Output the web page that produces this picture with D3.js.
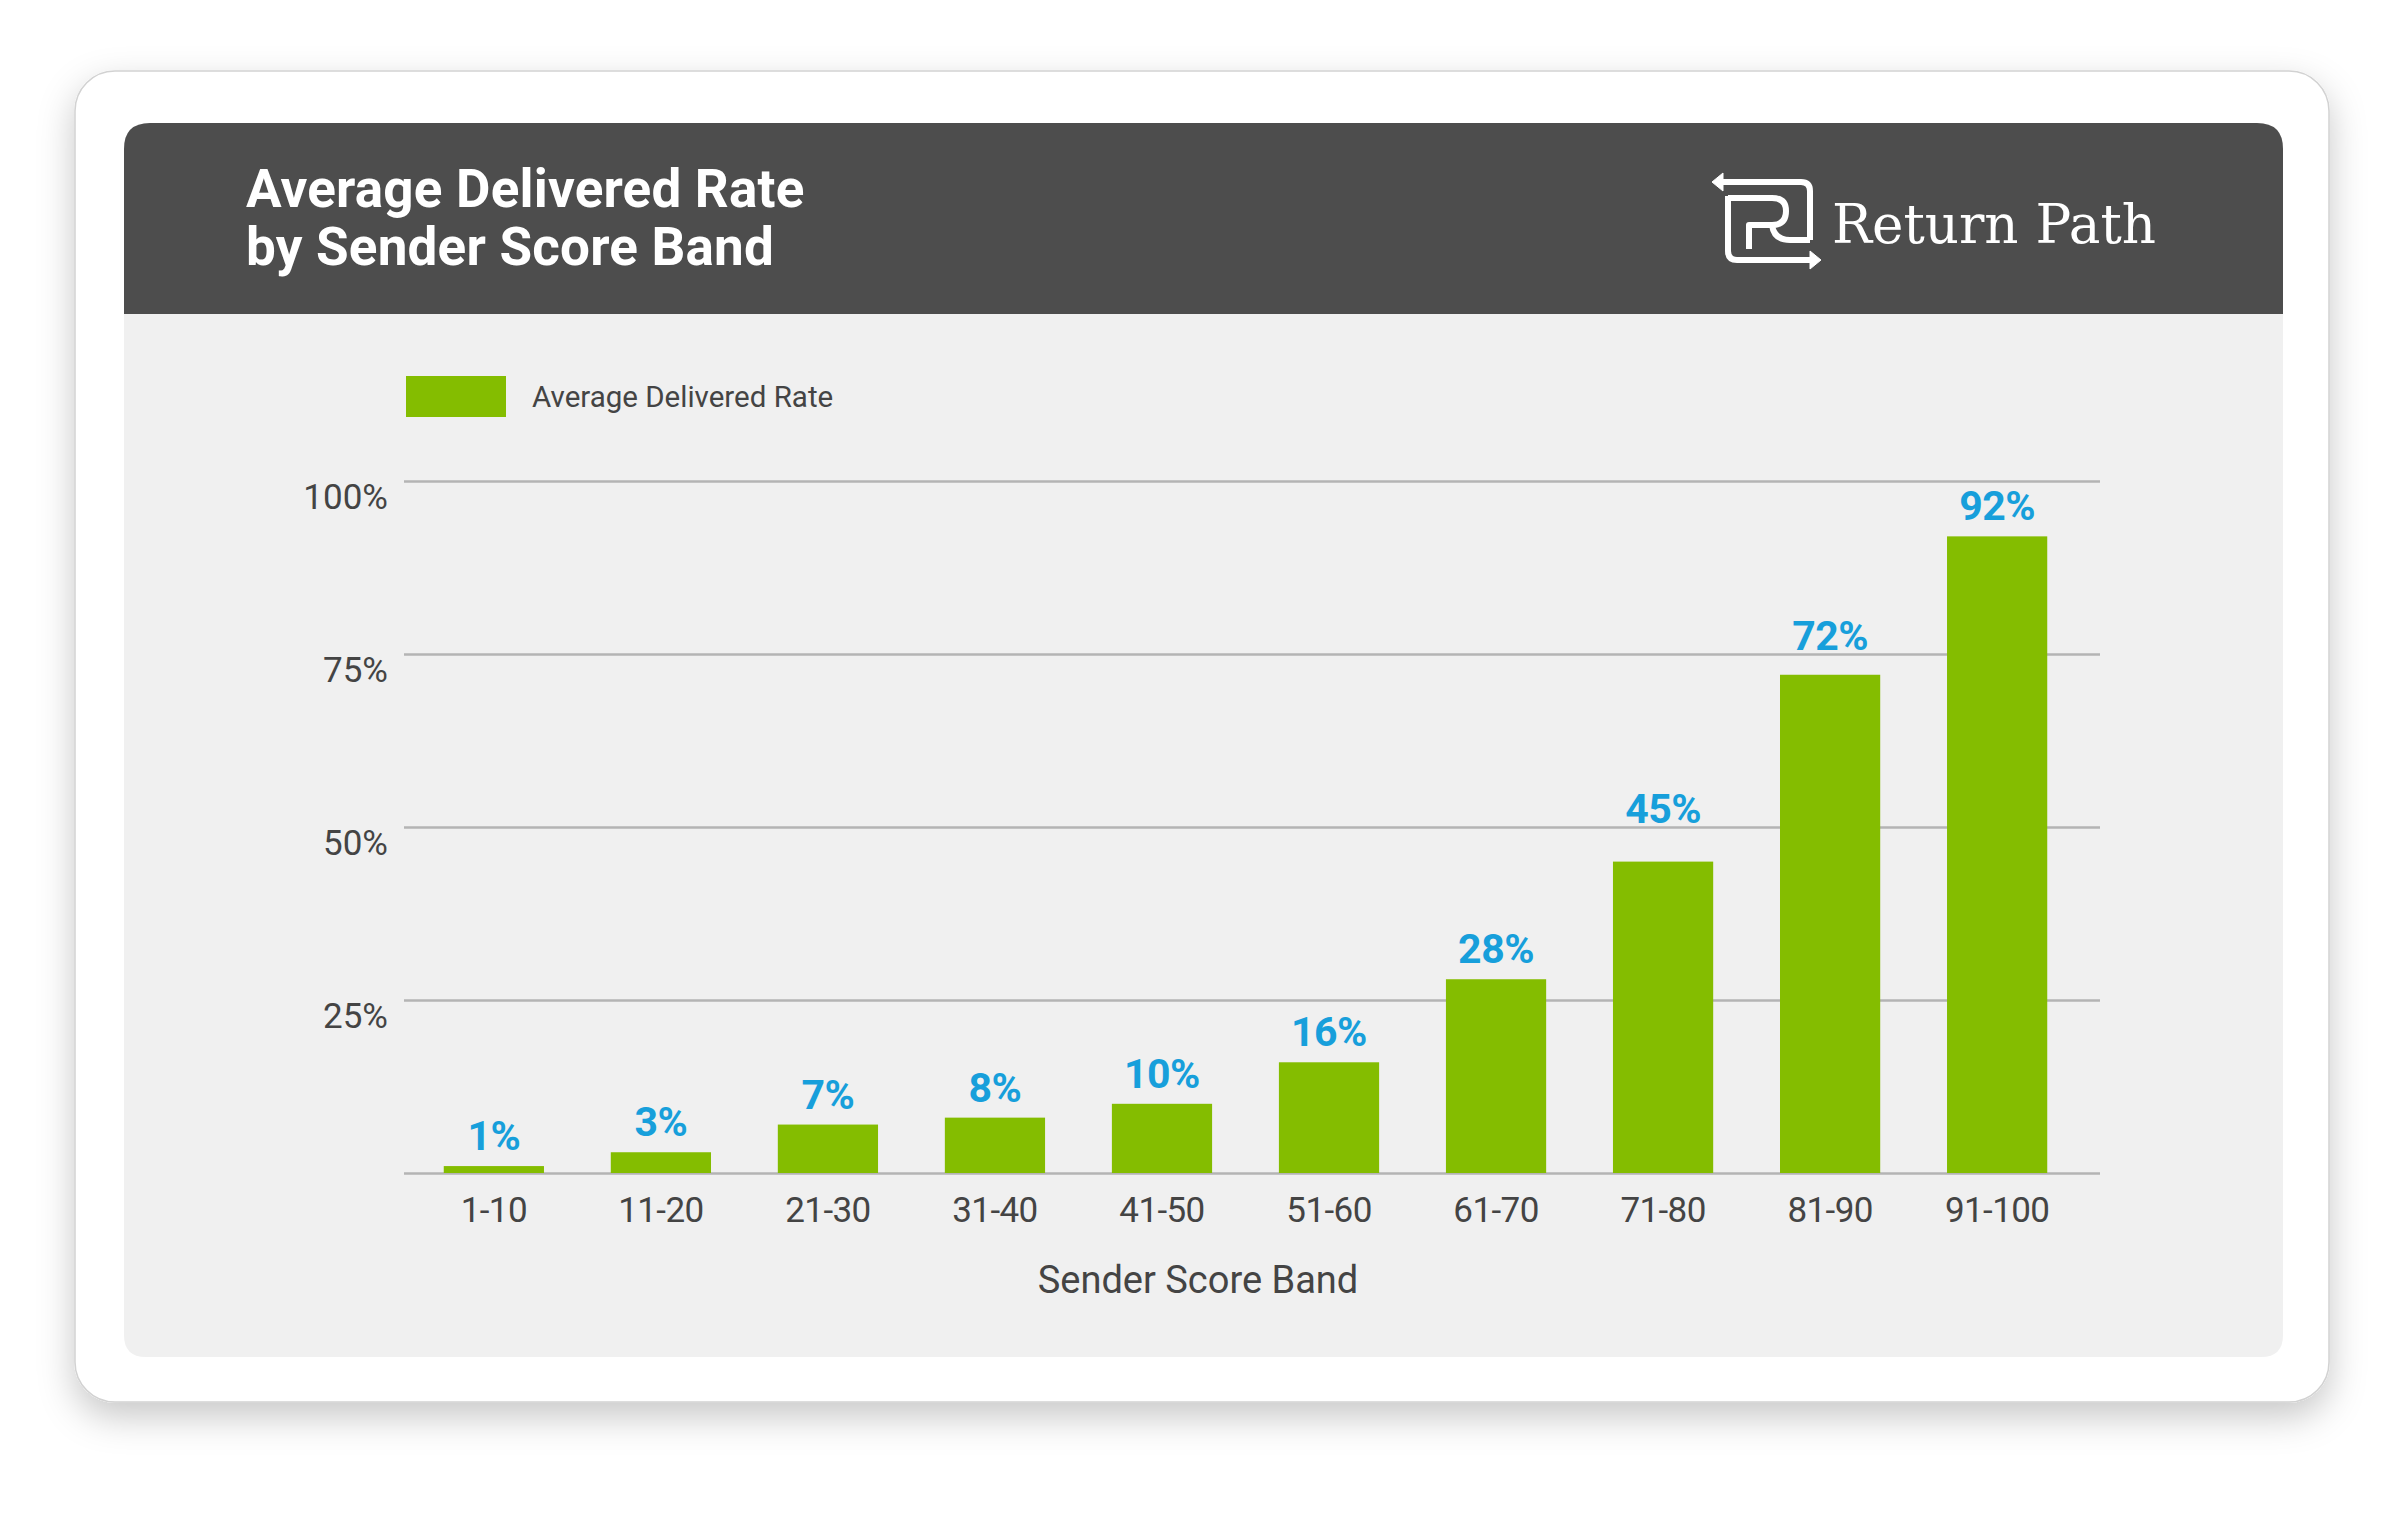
<!DOCTYPE html>
<html>
<head>
<meta charset="utf-8">
<script src="https://cdn.jsdelivr.net/npm/d3@7"></script>
<style>
  html, body { margin: 0; padding: 0; background: #ffffff; }
  svg { display: block; }
</style>
</head>
<body>
<script>
// ---- data ----
const categories = ["1-10", "11-20", "21-30", "31-40", "41-50", "51-60", "61-70", "71-80", "81-90", "91-100"];
const deliveredRate = [1, 3, 7, 8, 10, 16, 28, 45, 72, 92];
const yTickValues = [0, 25, 50, 75, 100];
const yTickLabels = ["", "25%", "50%", "75%", "100%"];
const titleLines = ["Average Delivered Rate", "by Sender Score Band"];
const legendLabel = "Average Delivered Rate";
const xAxisTitle = "Sender Score Band";
const brandName = "Return Path";

// ---- style ----
const W = 2400, H = 1532;
const GREEN = "#84bd00", BLUE = "#179fdb", TEXT = "#444444", GRID = "#b4b4b4";
const FONT = "Roboto, 'Open Sans', sans-serif";

const svg = d3.select("body").append("svg").attr("width", W).attr("height", H);
const defs = svg.append("defs");
const f = defs.append("filter").attr("id", "shadow").attr("x", "-10%").attr("y", "-10%").attr("width", "120%").attr("height", "125%");
f.append("feDropShadow").attr("dx", 0).attr("dy", 14).attr("stdDeviation", 18).attr("flood-color", "#000").attr("flood-opacity", 0.22);

svg.append("rect").attr("width", W).attr("height", H).attr("fill", "#ffffff");

// card
svg.append("rect").attr("x", 75).attr("y", 71).attr("width", 2254).attr("height", 1331)
  .attr("rx", 40).attr("fill", "#ffffff").attr("stroke", "#d2d2d2").attr("stroke-width", 1.5)
  .attr("filter", "url(#shadow)");

// panel (header + body)
function roundedPath(x, y, w, h, rTop, rBot) {
  return `M${x},${y + rTop} Q${x},${y} ${x + rTop},${y} L${x + w - rTop},${y} Q${x + w},${y} ${x + w},${y + rTop}
          L${x + w},${y + h - rBot} Q${x + w},${y + h} ${x + w - rBot},${y + h} L${x + rBot},${y + h} Q${x},${y + h} ${x},${y + h - rBot} Z`;
}
svg.append("path").attr("d", roundedPath(124, 123, 2159, 1234, 26, 22)).attr("fill", "#f0f0f0");
svg.append("path").attr("d", roundedPath(124, 123, 2159, 191, 26, 0)).attr("fill", "#4d4d4d");

// title
const title = svg.append("text").attr("x", 246).attr("fill", "#ffffff")
  .style("font-family", FONT).style("font-weight", 700).style("font-size", "53px").style("letter-spacing", "0.2px");
titleLines.forEach((t, i) => title.append("tspan").attr("x", 246).attr("y", 207 + i * 58).text(t));

// logo icon
const logo = svg.append("g").attr("transform", "translate(1700,160)")
  .attr("fill", "none").attr("stroke", "#ffffff").attr("stroke-width", 6).attr("stroke-linejoin", "round");
logo.append("path").attr("d", "M22,22 L101,22 Q110,22 110,31 L110,80");
logo.append("path").attr("d", "M28,36 L28,91 Q28,100 37,100 L110,100");
logo.append("path").attr("d", "M28,38 L72,38 Q86,38 86,51 Q86,65 72,65 L49,65 L49,89");
logo.append("path").attr("d", "M72,65 Q74,80 90,80 L110,80");
logo.append("path").attr("d", "M12,22 L23,13 L23,31 Z").attr("fill", "#fff").attr("stroke-width", 1);
logo.append("path").attr("d", "M121,100 L110,91 L110,109 Z").attr("fill", "#fff").attr("stroke-width", 1);
svg.append("text").attr("x", 1832).attr("y", 243).attr("fill", "#ffffff")
  .attr("textLength", 324).attr("lengthAdjust", "spacingAndGlyphs")
  .style("font-family", "'DejaVu Serif', serif").style("font-size", "55px").text(brandName);

// legend
svg.append("rect").attr("x", 406).attr("y", 376).attr("width", 100).attr("height", 41).attr("fill", GREEN);
svg.append("text").attr("x", 532).attr("y", 407).attr("fill", TEXT)
  .style("font-family", FONT).style("font-size", "29.5px").text(legendLabel);

// scales
const gx0 = 404, gx1 = 2100;
const x = d3.scaleBand().domain(categories).range([402, 2089]).paddingInner(0.4).paddingOuter(0.25);
const y = d3.scaleLinear().domain([0, 100]).range([1173, 481]);

// y axis with gridlines
const yAxis = d3.axisLeft(y).tickValues(yTickValues)
  .tickFormat((d, i) => yTickLabels[i]).tickSize(-(gx1 - gx0)).tickPadding(16);
const gy = svg.append("g").attr("transform", `translate(${gx0},0)`).call(yAxis);
gy.select(".domain").remove();
gy.selectAll(".tick line").attr("stroke", GRID).attr("stroke-width", 2.5);
gy.selectAll(".tick text").attr("fill", TEXT).attr("dy", 27)
  .style("font-family", FONT).style("font-size", "35px");

// bars
svg.append("g").selectAll("rect").data(deliveredRate).join("rect")
  .attr("x", (d, i) => x(categories[i])).attr("width", x.bandwidth())
  .attr("y", d => y(d)).attr("height", d => y(0) - y(d)).attr("fill", GREEN);

// value labels (lifted above a gridline when they would sit on it)
const labelSize = 41, capH = labelSize * 0.72;
function labelBaseline(d) {
  let b = y(d) - 16;
  yTickValues.forEach(t => {
    const gyv = y(t);
    if (t > 0 && gyv > b - capH - 2 && gyv < b + 2) b = gyv - 4;
  });
  return b;
}
svg.append("g").selectAll("text").data(deliveredRate).join("text")
  .attr("x", (d, i) => x(categories[i]) + x.bandwidth() / 2).attr("y", d => labelBaseline(d))
  .attr("text-anchor", "middle").attr("fill", BLUE)
  .style("font-family", FONT).style("font-weight", 700).style("font-size", labelSize + "px").style("letter-spacing", "-0.5px")
  .text(d => d + "%");

// x axis
const xAxis = d3.axisBottom(x).tickSize(0).tickPadding(0);
const gxA = svg.append("g").attr("transform", `translate(0,${y(0)})`).call(xAxis);
gxA.select(".domain").remove();
gxA.selectAll(".tick text").attr("fill", TEXT).attr("y", 49).attr("dy", 0)
  .style("font-family", FONT).style("font-size", "35px").style("letter-spacing", "-0.6px");

// x axis title
svg.append("text").attr("x", 1198).attr("y", 1293).attr("text-anchor", "middle").attr("fill", TEXT)
  .style("font-family", FONT).style("font-size", "38px").text(xAxisTitle);
</script>
</body>
</html>
